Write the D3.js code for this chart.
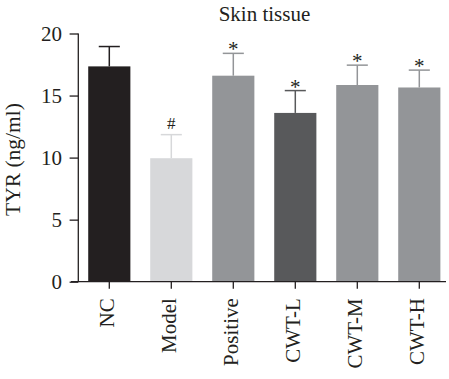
<!DOCTYPE html>
<html>
<head>
<meta charset="utf-8">
<script src="https://cdn.jsdelivr.net/npm/d3@7"></script>
<style>
  html, body { margin: 0; padding: 0; background: #fff; }
  svg { display: block; }
  text { font-family: "Liberation Serif", "DejaVu Serif", serif; fill: #231f20; }
</style>
</head>
<body>
<svg id="chart" width="449" height="379"></svg>
<script>
// TYR level in skin tissue per group (mean and mean + SD)
const groups = ["NC", "Model", "Positive", "CWT-L", "CWT-M", "CWT-H"];
const means = [17.35, 9.95, 16.6, 13.6, 15.85, 15.65];
const upper = [18.95, 11.85, 18.4, 15.4, 17.45, 17.05];
const marks = ["", "#", "*", "*", "*", "*"];
const barColors = ["#231f20", "#d7d8da", "#939598", "#58595b", "#939598", "#939598"];
const yTicks = [0, 5, 10, 15, 20];

const svg = d3.select("#chart");
const ink = "#231f20";

const x = d3.scaleBand()
  .domain(groups)
  .range([78.3, 450.3])
  .paddingInner(0.32)
  .paddingOuter(0.16);

const y = d3.scaleLinear()
  .domain([0, 20])
  .range([281.7, 33.5]);

// Title
svg.append("text")
  .attr("x", 264.5)
  .attr("y", 20.5)
  .attr("text-anchor", "middle")
  .style("font-size", "21px")
  .text("Skin tissue");

// Bars
svg.append("g").selectAll("rect")
  .data(groups)
  .join("rect")
  .attr("x", d => x(d))
  .attr("y", (d, i) => y(means[i]))
  .attr("width", x.bandwidth())
  .attr("height", (d, i) => y(0) - y(means[i]))
  .attr("fill", (d, i) => barColors[i]);

// Error bars (upper whisker with cap)
const capHalf = x.bandwidth() / 4;
const err = svg.append("g");
groups.forEach((g, i) => {
  const cx = x(g) + x.bandwidth() / 2;
  err.append("line")
    .attr("x1", cx).attr("x2", cx)
    .attr("y1", y(means[i])).attr("y2", y(upper[i]))
    .attr("stroke", barColors[i]).attr("stroke-width", 1.5);
  err.append("line")
    .attr("x1", cx - capHalf).attr("x2", cx + capHalf)
    .attr("y1", y(upper[i])).attr("y2", y(upper[i]))
    .attr("stroke", barColors[i]).attr("stroke-width", 1.5);
});

// Significance marks
svg.append("g").selectAll("text")
  .data(groups)
  .join("text")
  .attr("x", d => x(d) + x.bandwidth() / 2)
  .attr("y", (d, i) => marks[i] === "#" ? y(upper[i]) - 6 : y(upper[i]) + 3)
  .attr("text-anchor", "middle")
  .style("font-size", (d, i) => marks[i] === "#" ? "17px" : "21px")
  .text((d, i) => marks[i]);

// Y axis
const yAxis = svg.append("g")
  .attr("transform", "translate(78.3,0)")
  .call(d3.axisLeft(y).tickValues(yTicks).tickSize(8.7).tickPadding(7.6));
yAxis.select(".domain").attr("stroke", ink).attr("stroke-width", 1.3)
  .attr("d", `M0,${y(20)}V${y(0)}`);
yAxis.selectAll(".tick line").attr("stroke", ink).attr("stroke-width", 1.3);
yAxis.selectAll(".tick text")
  .style("font-size", "21px")
  .style("font-family", "Liberation Serif, serif")
  .attr("fill", ink)
  .attr("dy", "0.34em");

// X axis
const xAxis = svg.append("g")
  .attr("transform", `translate(0,${y(0)})`)
  .call(d3.axisBottom(x).tickSize(7).tickSizeOuter(0));
xAxis.select(".domain").attr("stroke", ink).attr("stroke-width", 1.3)
  .attr("d", "M71,0H446");
xAxis.selectAll(".tick line").attr("stroke", ink).attr("stroke-width", 1.3);
xAxis.selectAll(".tick text")
  .style("font-size", "21px")
  .style("font-family", "Liberation Serif, serif")
  .attr("fill", ink)
  .attr("text-anchor", "end")
  .attr("transform", "rotate(-90)")
  .attr("x", -16.5)
  .attr("y", 0)
  .attr("dy", "0.22em");

// Y axis title
svg.append("text")
  .attr("transform", "translate(19.5,159.5) rotate(-90)")
  .attr("text-anchor", "middle")
  .style("font-size", "21.5px")
  .text("TYR (ng/ml)");
</script>
</body>
</html>
